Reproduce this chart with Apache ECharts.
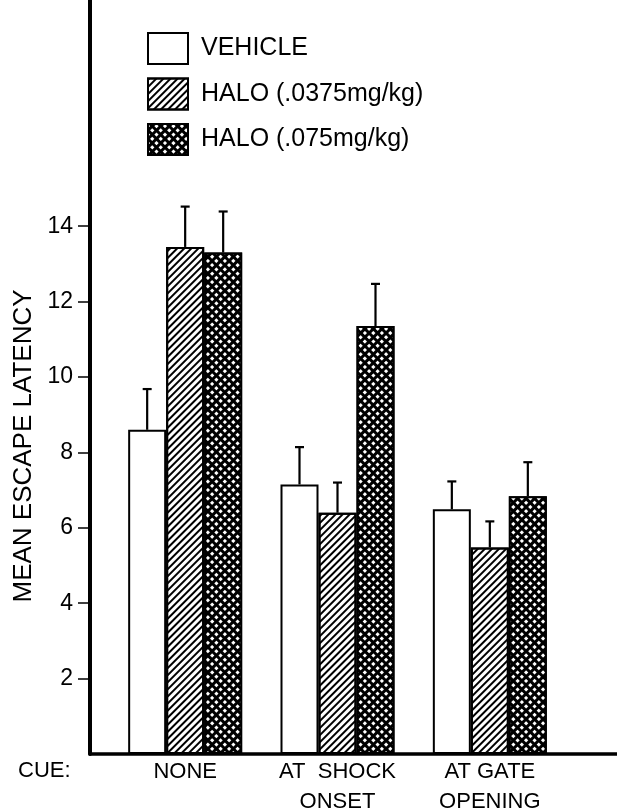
<!DOCTYPE html>
<html>
<head>
<meta charset="utf-8">
<script src="https://cdn.jsdelivr.net/npm/echarts@6/dist/echarts.min.js"></script>
<style>html,body{margin:0;padding:0;background:#fff;}#c{width:617px;height:811px;}</style>
</head>
<body>
<div id="c"></div>
<script>
var categories = ['NONE', 'AT  SHOCK\nONSET', 'AT GATE\nOPENING'];
var seriesNames = ['VEHICLE', 'HALO (.0375mg/kg)', 'HALO (.075mg/kg)'];
var vehicle = [8.6, 7.15, 6.49];
var halo0375 = [13.45, 6.4, 5.48];
var halo075 = [13.3, 11.35, 6.84];
var vehicleErr = [1.08, 0.99, 0.74];
var halo0375Err = [1.07, 0.8, 0.69];
var halo075Err = [1.09, 1.12, 0.9];
var yTicks = [2, 4, 6, 8, 10, 12, 14];

var FONT = 'Liberation Sans, Arial, Helvetica, sans-serif';
var INK = '#000';
var BAR_W = 38;
var values = [vehicle, halo0375, halo075];
var errs = [vehicleErr, halo0375Err, halo075Err];

var decals = [
  null,
  { symbol: 'rect', symbolSize: 1, color: '#000', dashArrayX: [1, 0], dashArrayY: [1.5, 2.1], rotation: -Math.PI / 4 },
  { symbol: 'rect', symbolSize: 1, color: '#fff', dashArrayX: [2.8, 2.9], dashArrayY: [2.8, 2.9], rotation: Math.PI / 4 }
];
var fills = ['#fff', '#fff', '#000'];

var series = [];
values.forEach(function (v, i) {
  var st = { color: fills[i], borderColor: INK, borderWidth: 2 };
  if (decals[i]) st.decal = decals[i];
  series.push({
    name: seriesNames[i], type: 'bar', xAxisIndex: 1, yAxisIndex: 1,
    data: v, barWidth: BAR_W, barGap: '0%', itemStyle: st, silent: true, animation: false
  });
});
values.forEach(function (v, i) {
  var data = v.map(function (val, k) { return [k, val, val + errs[i][k]]; });
  series.push({
    type: 'custom', xAxisIndex: 1, yAxisIndex: 1, silent: true, animation: false,
    data: data, z: 1,
    renderItem: function (params, api) {
      var base = api.coord([api.value(0), api.value(1)]);
      var top = api.coord([api.value(0), api.value(2)]);
      var x = base[0] + (i - 1) * BAR_W;
      var capW = 9;
      var ls = { stroke: INK, lineWidth: 2.2 };
      return {
        type: 'group',
        children: [
          { type: 'line', shape: { x1: x, y1: base[1], x2: x, y2: top[1] }, style: ls },
          { type: 'line', shape: { x1: x - capW / 2, y1: top[1], x2: x + capW / 2, y2: top[1] }, style: ls }
        ]
      };
    }
  });
});

var chart = echarts.init(document.getElementById('c'), null, { renderer: 'canvas' });
chart.setOption({
  backgroundColor: '#fff',
  animation: false,
  textStyle: { fontFamily: FONT, color: INK },
  grid: [
    { left: 90, right: 0, top: 0, bottom: 57, outerBoundsMode: 'none', containLabel: false },
    { left: 109, right: 51, top: 0, bottom: 57, outerBoundsMode: 'none', containLabel: false }
  ],
  legend: {
    orient: 'vertical', left: 147, top: 32, padding: 0,
    itemWidth: 40, itemHeight: 31, itemGap: 12.5,
    icon: 'rect',
    data: seriesNames,
    textStyle: { fontFamily: FONT, fontSize: 25, color: INK, padding: [0, 0, 0, 8] },
    selectedMode: false
  },
  xAxis: [
    { gridIndex: 0, type: 'value', min: 0, max: 1, axisLine: { show: true, lineStyle: { color: INK, width: 3.5 } },
      axisTick: { show: false }, axisLabel: { show: false }, splitLine: { show: false } },
    { gridIndex: 1, type: 'category', data: categories, axisLine: { show: false }, axisTick: { show: false },
      axisLabel: { fontFamily: FONT, fontSize: 22, color: INK, lineHeight: 30, margin: 3, interval: 0 } }
  ],
  yAxis: [
    { gridIndex: 0, type: 'value', min: 0, max: 20, interval: 2,
      axisLine: { show: true, lineStyle: { color: INK, width: 4 } },
      axisTick: { show: true, length: 12, customValues: yTicks, lineStyle: { color: INK, width: 1.5 } },
      axisLabel: { customValues: yTicks, fontFamily: FONT, fontSize: 23, color: INK, margin: 17 },
      splitLine: { show: false } },
    { gridIndex: 1, type: 'value', min: 0, max: 20, show: false, splitLine: { show: false } }
  ],
  graphic: [
    { type: 'text', x: 24, y: 446, rotation: Math.PI / 2,
      style: { text: 'MEAN ESCAPE LATENCY', fontFamily: FONT, fontSize: 26, fill: INK, textAlign: 'center', textVerticalAlign: 'middle' } },
    { type: 'text', x: 18, y: 771,
      style: { text: 'CUE:', fontFamily: FONT, fontSize: 22, fill: INK, textAlign: 'left', textVerticalAlign: 'middle' } }
  ],
  series: series
});
</script>
</body>
</html>
